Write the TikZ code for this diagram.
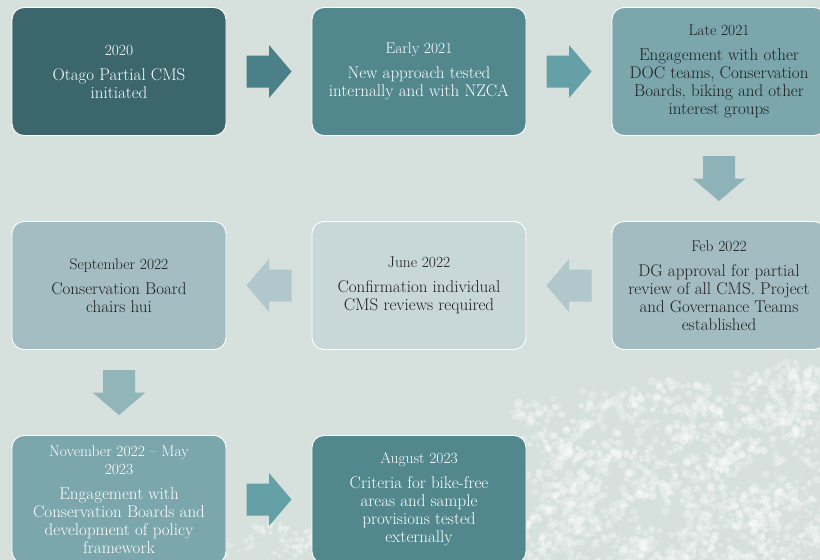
\documentclass[tikz,border=0pt]{standalone}
\usepackage{fontspec}
\usetikzlibrary{calc}
\definecolor{bg}{HTML}{D6E0DC}
\definecolor{cA}{HTML}{3A666C}
\definecolor{cB}{HTML}{51878D}
\definecolor{cC}{HTML}{7AA6AC}
\definecolor{cD}{HTML}{A2BCC1}
\definecolor{cE}{HTML}{C8D8D9}
\definecolor{cF}{HTML}{A3BDC2}
\definecolor{aA}{HTML}{4A8088}
\definecolor{aB}{HTML}{65A0A6}
\definecolor{aC}{HTML}{8DB3B8}
\definecolor{aD}{HTML}{B0C8CB}
\definecolor{aE}{HTML}{92B5BA}
\definecolor{txtdark}{HTML}{1E1E1E}
\newcommand\boxtitle[1]{{\fontsize{15.5}{18}\selectfont #1}\\[7pt]}
\begin{document}
\begin{tikzpicture}[x=1pt,y=-1pt,
  card/.style={rectangle, rounded corners=12pt, minimum width=214pt, minimum height=128pt,
    inner sep=2pt, draw=white, line width=0.9pt, align=center,
    font=\fontsize{17}{18}\selectfont},
  darkcard/.style={card, text=white},
  lightcard/.style={card, text=txtdark},
  blob/.style={white, opacity=0.26},
  pics/rarr/.style={code={\fill[#1] (-22.5,-16) -- (0,-16) -- (0,-26.5) -- (22.5,0) -- (0,26.5) -- (0,16) -- (-22.5,16) -- cycle;}},
  pics/larr/.style={code={\fill[#1] (22.5,-16) -- (0,-16) -- (0,-26.5) -- (-22.5,0) -- (0,26.5) -- (0,16) -- (22.5,16) -- cycle;}},
  pics/darr/.style={code={\fill[#1] (-16,-22.5) -- (-16,0) -- (-26.5,0) -- (0,22.5) -- (26.5,0) -- (16,0) -- (16,-22.5) -- cycle;}}
]
\useasboundingbox (0,0) rectangle (820,560);
\clip (0,0) rectangle (820,560);
\fill[bg] (0,0) rectangle (820,560);
% lichen texture, bottom right
\pgfmathsetseed{11}
\foreach \i in {1,...,300}{
  \pgfmathsetmacro\cx{520+310*rnd}
  \pgfmathsetmacro\cy{345+225*rnd}
  \pgfmathtruncatemacro\ok{(\cy > 412-(\cx-520)*0.17) ? 1 : 0}
  \ifnum\ok=1
    \foreach \j in {1,...,7}{
      \pgfmathsetmacro\dx{\cx+15*rand}
      \pgfmathsetmacro\dy{\cy+9*rand}
      \pgfmathsetmacro\rr{1.8+2.6*rnd}
      \fill[blob] (\dx,\dy) circle[radius=\rr pt];
    }
  \fi
}
\foreach \i in {1,...,25}{
  \pgfmathsetmacro\cx{228+100*rnd}
  \pgfmathsetmacro\cy{525+40*rnd}
  \foreach \j in {1,...,5}{
    \pgfmathsetmacro\dx{\cx+10*rand}
    \pgfmathsetmacro\dy{\cy+6*rand}
    \pgfmathsetmacro\rr{1.3+2*rnd}
    \fill[blob] (\dx,\dy) circle[radius=\rr pt];
  }
}

\node[darkcard, fill=cA] (b1) at (119,71.5) {\boxtitle{2020}Otago Partial CMS\\initiated};
\node[darkcard, fill=cB] (b2) at (419,71.5) {\boxtitle{Early 2021}New approach tested\\internally and with NZCA};
\node[lightcard, fill=cC] (b3) at (719,71.5) {\boxtitle{Late 2021}Engagement with other\\DOC teams, Conservation\\Boards, biking and other\\interest groups};
\node[lightcard, fill=cD] (b4) at (719,285.5) {\boxtitle{Feb 2022}DG approval for partial\\review of all CMS. Project\\and Governance Teams\\established};
\node[lightcard, fill=cE] (b5) at (419,285.5) {\boxtitle{June 2022}Confirmation individual\\CMS reviews required};
\node[lightcard, fill=cF] (b6) at (119,285.5) {\boxtitle{September 2022}Conservation Board\\chairs hui};
\node[darkcard, fill=cC] (b7) at (119,499.5) {{\fontsize{15.5}{18}\selectfont November 2022 -- May}\\\boxtitle{2023}Engagement with\\Conservation Boards and\\development of policy\\framework};
\node[darkcard, fill=cB] (b8) at (419,499.5) {\boxtitle{August 2023}Criteria for bike-free\\areas and sample\\provisions tested\\externally};

\pic at ($(b1.east)!0.5!(b2.west)$) {rarr=aA};
\pic at ($(b2.east)!0.5!(b3.west)$) {rarr=aB};
\pic at ($(b3.south)!0.5!(b4.north)$) {darr=aC};
\pic at ($(b4.west)!0.5!(b5.east)$) {larr=aD};
\pic at ($(b5.west)!0.5!(b6.east)$) {larr=aD};
\pic at ($(b6.south)!0.5!(b7.north)$) {darr=aE};
\pic at ($(b7.east)!0.5!(b8.west)$) {rarr=aB};
\end{tikzpicture}
\end{document}
